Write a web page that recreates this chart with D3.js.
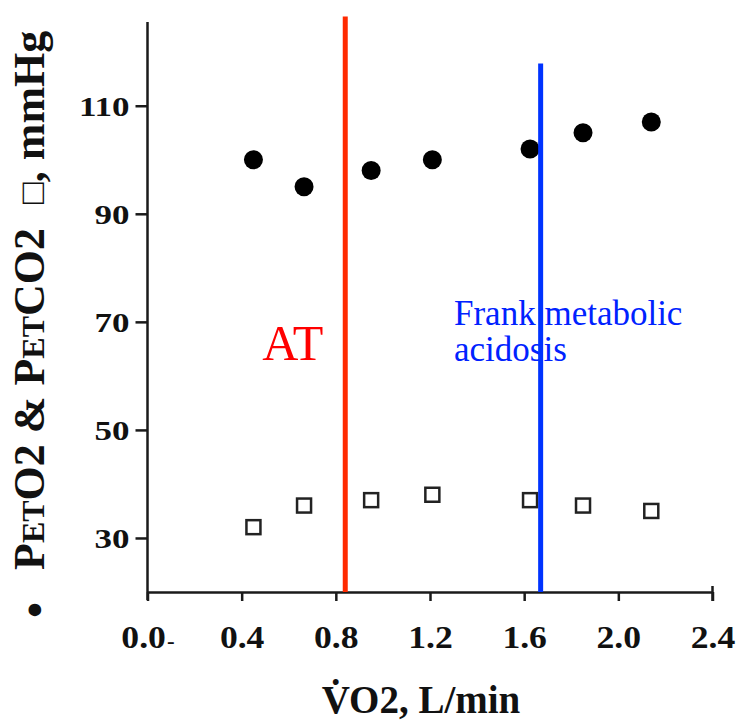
<!DOCTYPE html>
<html>
<head>
<meta charset="utf-8">
<script src="https://cdn.jsdelivr.net/npm/d3@7"></script>
<style>
  body { margin: 0; background: #fff; }
  svg { display: block; }
</style>
</head>
<body>
<svg id="chart" width="736" height="724"></svg>
<script>
// End-tidal gas tensions against oxygen uptake during incremental exercise
const vo2 = [0.45, 0.665, 0.95, 1.21, 1.625, 1.85, 2.14];   // L/min
const petO2 = [100, 95, 98, 100, 102, 105, 107];             // mmHg (filled circles)
const petCO2 = [32, 36, 37, 38, 37, 36, 35];                 // mmHg (open squares)

const xTickValues = [0, 0.4, 0.8, 1.2, 1.6, 2.0, 2.4];
const xTickLabels = ["0.0", "0.4", "0.8", "1.2", "1.6", "2.0", "2.4"];
const yTickValues = [30, 50, 70, 90, 110];

// Threshold markers: anaerobic threshold and onset of frank metabolic acidosis
const thresholdNames = ["AT", "Frank metabolic acidosis"];
const thresholdVO2 = [0.84, 1.67];
const thresholdTop = [126.5, 117.8];

const serif = "'Liberation Serif', 'Times New Roman', serif";
const svg = d3.select("#chart");

const x = d3.scaleLinear().domain([0, 2.4]).range([147.5, 712.5]);
const y = d3.scaleLinear().domain([20, 125.5]).range([592, 22]);

const axisColor = "#1a1a1a";

// ---- y axis ----
const yAxis = svg.append("g")
  .attr("transform", `translate(${x(0)},0)`)
  .call(d3.axisLeft(y).tickValues(yTickValues).tickSize(12).tickSizeOuter(0).tickPadding(16));
yAxis.select(".domain").remove();
yAxis.append("line")
  .attr("x1", 0).attr("x2", 0)
  .attr("y1", y(125.5)).attr("y2", y(20) + 8)
  .attr("stroke", axisColor).attr("stroke-width", 2.5);
yAxis.selectAll(".tick line").attr("stroke", axisColor).attr("stroke-width", 2.5);
const ySx = 1.25;
yAxis.selectAll(".tick text")
  .attr("fill", "#111")
  .style("font-family", serif)
  .style("font-weight", "bold")
  .style("font-size", "28px")
  .attr("x", -18 / ySx)
  .attr("dy", "0.34em")
  .attr("transform", `scale(${ySx},1)`);

// ---- x axis ----
const xAxis = svg.append("g")
  .attr("transform", `translate(0,${y(20)})`)
  .call(d3.axisBottom(x).tickValues(xTickValues).tickSize(9).tickSizeOuter(0).tickPadding(25)
    .tickFormat((d, i) => xTickLabels[i]));
xAxis.select(".domain").attr("stroke", axisColor).attr("stroke-width", 2.5);
xAxis.selectAll(".tick line").attr("stroke", axisColor).attr("stroke-width", 2.5);
xAxis.append("line")
  .attr("x1", x(2.4)).attr("x2", x(2.4)).attr("y1", -6).attr("y2", 9)
  .attr("stroke", axisColor).attr("stroke-width", 2.5);
const xSx = 1.15;
xAxis.selectAll(".tick text")
  .attr("fill", "#111")
  .style("font-family", serif)
  .style("font-weight", "bold")
  .style("font-size", "31px")
  .attr("transform", `scale(${xSx},1)`);
// small trailing mark after the origin label
xAxis.selectAll(".tick").filter(d => d === 0).select("text")
  .append("tspan").attr("dx", 1).style("font-size", "20px").text("-");

// ---- axis titles ----
svg.append("text")
  .attr("x", 421).attr("y", 713)
  .attr("text-anchor", "middle")
  .style("font-family", serif).style("font-weight", "bold").style("font-size", "39px")
  .attr("fill", "#111")
  .text("V\u0307O2, L/min");

const yTitle = svg.append("text")
  .attr("transform", "translate(44,570) rotate(-90)")
  .attr("text-anchor", "start")
  .style("font-family", serif).style("font-weight", "bold").style("font-size", "44px")
  .attr("fill", "#111");
yTitle.append("tspan").text("P");
yTitle.append("tspan").style("font-size", "32px").text("ET");
yTitle.append("tspan").text("O2 & P");
yTitle.append("tspan").style("font-size", "32px").text("ET");
yTitle.append("tspan").text("CO2");
yTitle.append("tspan").attr("dx", 24).style("font-weight", "normal").style("font-size", "36px").text("\u25A1");
yTitle.append("tspan").text(", mmHg");

svg.append("text")
  .attr("transform", "translate(50,610) rotate(-90)")
  .attr("text-anchor", "middle")
  .style("font-family", serif).style("font-weight", "bold").style("font-size", "46px")
  .attr("fill", "#111")
  .text("\u2022");

// ---- threshold lines ----
const thrColors = ["#ff2a00", "#0033ff"];
svg.selectAll("line.threshold")
  .data(thresholdVO2)
  .join("line")
  .attr("class", "threshold")
  .attr("x1", d => x(d)).attr("x2", d => x(d))
  .attr("y1", (d, i) => y(thresholdTop[i]))
  .attr("y2", y(20))
  .attr("stroke", (d, i) => thrColors[i])
  .attr("stroke-width", 5);

// ---- data marks ----
svg.selectAll("rect.co2")
  .data(petCO2)
  .join("rect")
  .attr("class", "co2")
  .attr("x", (d, i) => x(vo2[i]) - 7)
  .attr("y", d => y(d) - 7)
  .attr("width", 14).attr("height", 14)
  .attr("fill", "#fff")
  .attr("stroke", "#222")
  .attr("stroke-width", 2.5);

svg.selectAll("circle.o2")
  .data(petO2)
  .join("circle")
  .attr("class", "o2")
  .attr("cx", (d, i) => x(vo2[i]))
  .attr("cy", d => y(d))
  .attr("r", 9.5)
  .attr("fill", "#000");

// ---- threshold labels ----
svg.append("text")
  .attr("x", x(thresholdVO2[0]) - 22).attr("y", 360)
  .attr("text-anchor", "end")
  .style("font-family", serif).style("font-size", "50px")
  .attr("fill", "#ff0000")
  .text(thresholdNames[0]);

const frank = svg.append("text")
  .style("font-family", serif).style("font-size", "35px")
  .attr("fill", "#0022ff");
frank.append("tspan").attr("x", 454).attr("y", 325).text("Frank metabolic");
frank.append("tspan").attr("x", 454).attr("y", 361).text("acidosis");
// the blue line passes over the annotation
svg.selectAll("line.threshold").filter((d, i) => i === 1).raise();
</script>
</body>
</html>
